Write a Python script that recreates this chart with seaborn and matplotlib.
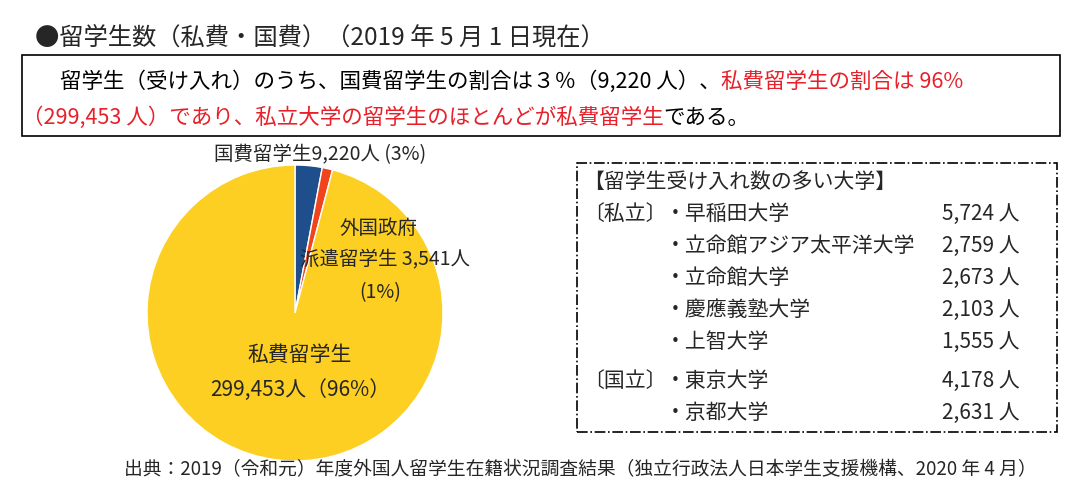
import matplotlib
matplotlib.use("Agg")
import matplotlib.pyplot as plt
import seaborn as sns
from matplotlib.patches import Rectangle

sns.set_theme(style="white")
plt.rcParams["font.family"] = "Noto Sans CJK JP"

categories = ["国費留学生", "外国政府派遣留学生", "私費留学生"]
values = [9220, 3541, 299453]
colors = ["#1f4e8c", "#f0441c", "#fccf22"]

universities_private = ["早稲田大学", "立命館アジア太平洋大学", "立命館大学", "慶應義塾大学", "上智大学"]
counts_private = ["5,724 人", "2,759 人", "2,673 人", "2,103 人", "1,555 人"]
universities_national = ["東京大学", "京都大学"]
counts_national = ["4,178 人", "2,631 人"]

W, H = 1080, 492
fig = plt.figure(figsize=(W / 100, H / 100), dpi=100)

def T(x, y, s, **kw):
    return fig.text(x / W, 1 - y / H, s, **kw)

# pie
cx, cy, r = 295, 313, 148
ax = fig.add_axes([(cx - r) / W, 1 - (cy + r) / H, 2 * r / W, 2 * r / H])
ax.pie(values, colors=colors, startangle=90, counterclock=False,
       wedgeprops=dict(edgecolor="white", linewidth=1))
ax.set_xlim(-1, 1)
ax.set_ylim(-1, 1)
ax.set_aspect("equal")
ax.axis("off")

T(35, 38, "●留学生数（私費・国費）（2019 年 5 月 1 日現在）", fontsize=17.5, va="center")
fig.add_artist(Rectangle((22 / W, 1 - 136 / H), 1038 / W, 81 / H, transform=fig.transFigure,
                         fill=False, edgecolor="black", linewidth=1.2))

renderer = fig.canvas.get_renderer()
def seq(x, y, parts, fs):
    for s, c in parts:
        t = T(x, y, s, fontsize=fs, va="center", color=c)
        x += t.get_window_extent(renderer).width

seq(60, 82, [("留学生（受け入れ）のうち、国費留学生の割合は３％（9,220 人）、", "black"),
             ("私費留学生の割合は 96%", "#e8202a")], 15.5)
seq(22, 118, [("（299,453 人）であり、私立大学の留学生のほとんどが私費留学生", "#e8202a"),
              ("である。", "black")], 15.5)

T(320, 155, "国費留学生9,220人 (3%)", fontsize=14, va="center", ha="center")
T(378, 228, "外国政府", fontsize=14, va="center", ha="center")
T(385, 260, "派遣留学生 3,541人", fontsize=14, va="center", ha="center")
T(380, 293, "(1%)", fontsize=14, va="center", ha="center")
T(300, 355, "私費留学生", fontsize=15, va="center", ha="center")
T(300, 390, "299,453人（96%）", fontsize=15, va="center", ha="center")

fig.add_artist(Rectangle((577 / W, 1 - 432 / H), 480 / W, 269 / H, transform=fig.transFigure,
                         fill=False, edgecolor="black", linewidth=1.2, linestyle="-."))
FS = 15
T(583, 182, "【留学生受け入れ数の多い大学】", fontsize=FS, va="center")
T(583, 214, "〔私立〕", fontsize=FS, va="center")
ys = [214, 246, 278, 310, 342]
for y, u, c in zip(ys, universities_private, counts_private):
    T(665, y, "・" + u, fontsize=FS, va="center")
    T(1020, y, c, fontsize=FS, va="center", ha="right")
T(583, 381, "〔国立〕", fontsize=FS, va="center")
for y, u, c in zip([381, 413], universities_national, counts_national):
    T(665, y, "・" + u, fontsize=FS, va="center")
    T(1020, y, c, fontsize=FS, va="center", ha="right")

T(580, 470, "出典：2019（令和元）年度外国人留学生在籍状況調査結果（独立行政法人日本学生支援機構、2020 年 4 月）",
  fontsize=13.5, va="center", ha="center")

fig.savefig("out.png", dpi=100)
